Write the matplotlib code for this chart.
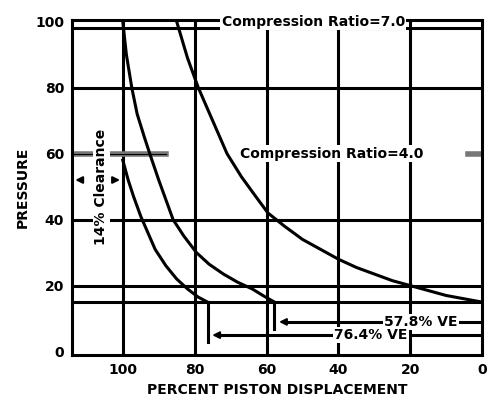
import matplotlib
matplotlib.use("Agg")
import matplotlib.pyplot as plt

curveA_x = [100, 98.5, 97, 95, 93, 91, 88, 85, 82, 79, 76.4]
curveA_y = [58, 52, 47, 41, 36, 31, 26, 22, 19, 16.5, 15]
curveB_x = [100, 99, 97.5, 96, 94, 92.5, 90, 88, 86, 83, 79.5, 76, 72, 68, 64, 61, 57.8]
curveB_y = [100, 90, 80, 72, 65, 60, 52, 46, 40, 35, 30, 26.5, 23.5, 21, 19, 17, 15]
curveC_x = [85, 82, 79, 75, 71, 67, 63, 59.6, 55, 50, 45, 40, 35, 30, 25, 20, 15, 10, 5, 0]
curveC_y = [100, 89, 80, 70, 60, 53, 47, 42, 38, 34, 31, 28, 25.5, 23.5, 21.5, 20, 18.5, 17, 16, 15]
hlines = [98, 80, 40, 20, 15]
vlines = [100, 80, 60, 40, 20]
xticks = [100, 80, 60, 40, 20, 0]
yticks = [0, 20, 40, 60, 80, 100]

fig = plt.figure(figsize=(4.93, 4.07), dpi=100)
ax = fig.add_axes([0.147, 0.128, 0.831, 0.823])
ax.set_xlim(114, 0)
ax.set_ylim(-1, 100.5)
lw = 2.2
for h in hlines:
    ax.axhline(h, color='black', lw=lw)
for v in vlines:
    ax.axvline(v, color='black', lw=lw)
ax.plot([114, 88], [60, 60], color='#777777', lw=4)
ax.plot([114, 88], [60, 60], color='black', lw=0.8)
ax.plot([4, 0], [60, 60], color='#777777', lw=4)

for xs, ys in [(curveA_x, curveA_y), (curveB_x, curveB_y), (curveC_x, curveC_y)]:
    ax.plot(xs, ys, color='black', lw=lw, solid_joinstyle='round')

bb = dict(facecolor='white', edgecolor='none', pad=1)
ax.text(47, 100, 'Compression Ratio=7.0', ha='center', va='center', fontsize=10, fontweight='bold', bbox=bb)
ax.text(42, 60, 'Compression Ratio=4.0', ha='center', va='center', fontsize=10, fontweight='bold', bbox=bb)
ax.text(106, 50, '14% Clearance', rotation=90, ha='center', va='center', fontsize=10, fontweight='bold', bbox=bb)
ax.annotate('', xy=(114, 52), xytext=(111, 52), arrowprops=dict(arrowstyle='-|>', color='black', lw=1.5))
ax.annotate('', xy=(100, 52), xytext=(103, 52), arrowprops=dict(arrowstyle='-|>', color='black', lw=1.5))

for ve, y, lab, lx in [(57.8, 9, '57.8% VE', 17), (76.4, 5, '76.4% VE', 31)]:
    ax.plot([ve, ve], [15, y - 2], color='black', lw=lw)
    ax.annotate('', xy=(ve - 0.5, y), xytext=(ve - 4, y), arrowprops=dict(arrowstyle='-|>', color='black', lw=1.5))
    ax.plot([ve - 3, 0], [y, y], color='black', lw=lw)
    ax.text(lx, y, lab, ha='center', va='center', fontsize=10, fontweight='bold', bbox=bb)

ax.set_xticks(xticks)
ax.set_yticks(yticks)
ax.tick_params(labelsize=10, length=0, pad=6)
for l in ax.get_xticklabels() + ax.get_yticklabels():
    l.set_fontweight('bold')
for s in ax.spines.values():
    s.set_linewidth(lw)
ax.set_xlabel('PERCENT PISTON DISPLACEMENT', fontsize=10, fontweight='bold')
ax.set_ylabel('PRESSURE', fontsize=10, fontweight='bold')
fig.savefig('out.png', dpi=100)
